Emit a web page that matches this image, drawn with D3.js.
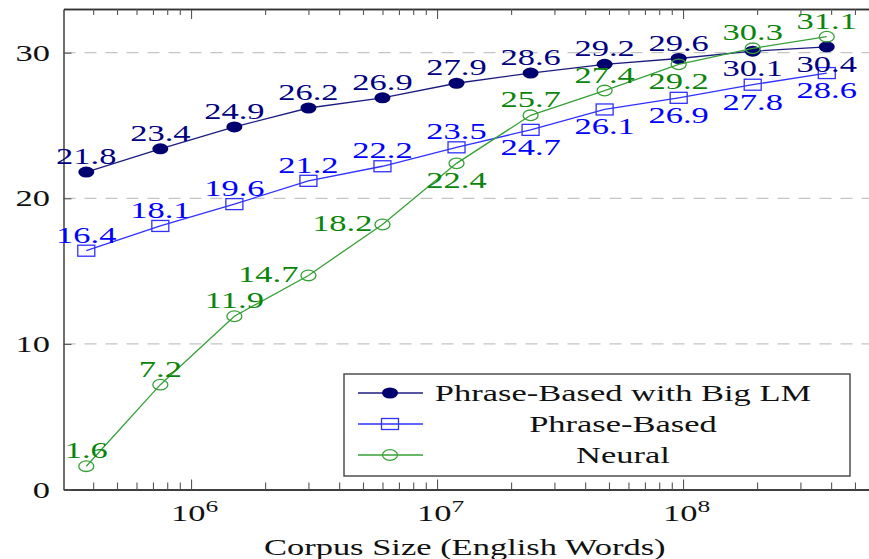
<!DOCTYPE html>
<html>
<head>
<meta charset="utf-8">
<script src="https://cdn.jsdelivr.net/npm/d3@7"></script>
<style>
  body { margin: 0; background: #fff; }
  text { font-family: "Liberation Serif", "Times New Roman", serif; }
</style>
</head>
<body>
<script>
// corpus sizes (English words) and BLEU scores
var corpusSize = [375e3, 750e3, 1.5e6, 3e6, 6e6, 12e6, 24e6, 48e6, 96e6, 192e6, 384e6];
var bigLM   = [21.8, 23.4, 24.9, 26.2, 26.9, 27.9, 28.6, 29.2, 29.6, 30.1, 30.4];
var phrase  = [16.4, 18.1, 19.6, 21.2, 22.2, 23.5, 24.7, 26.1, 26.9, 27.8, 28.6];
var neural  = [1.6, 7.2, 11.9, 14.7, 18.2, 22.4, 25.7, 27.4, 29.2, 30.3, 31.1];
var seriesNames = ["Phrase-Based with Big LM", "Phrase-Based", "Neural"];
var yTicks = [0, 10, 20, 30];
var xTicks = [1e6, 1e7, 1e8];

// where each value label sits relative to its point
var bigLMPos  = ["a","a","a","a","a","a","a","a","a","b","b"];
var phrasePos = ["a","a","a","a","a","a","b","b","b","b","b"];
var neuralPos = ["a","a","a","l","l","b","a","a","b","a","a"];

var W = 869, H = 559;
var SX = 1.5;      // the picture is stretched sideways
var FS = 23;

var svg = d3.select("body").append("svg")
    .attr("width", W).attr("height", H)
    .style("display", "block");

var pLeft = 63.5, pRight = 880, pTop = 9, pBottom = 489.5;

var x = d3.scaleLog().domain([3.03e5, 6.32e8]).range([pLeft, pRight]);
var y = d3.scaleLinear().domain([0, 33]).range([pBottom, pTop]);

// dashed grid
svg.append("g").selectAll("line")
    .data(yTicks.filter(function(d){ return d > 0; }))
    .enter().append("line")
    .attr("x1", pLeft).attr("x2", pRight)
    .attr("y1", function(d){ return y(d); })
    .attr("y2", function(d){ return y(d); })
    .attr("stroke", "#c4c4c4").attr("stroke-width", 1.2)
    .attr("stroke-dasharray", "12,9");

// minor log ticks
var minor = [];
[1e5, 1e6, 1e7, 1e8].forEach(function(p){
  for (var k = 2; k <= 9; k++) {
    var v = k * p;
    if (v > x.domain()[0] && v < x.domain()[1] && xTicks.indexOf(v) < 0) minor.push(v);
  }
});

var xb = svg.append("g")
    .attr("transform", "translate(0," + pBottom + ")")
    .call(d3.axisBottom(x).tickValues(xTicks).tickSizeInner(-10).tickSizeOuter(0).tickFormat(""));
svg.append("g")
    .attr("transform", "translate(0," + pTop + ")")
    .call(d3.axisTop(x).tickValues(xTicks).tickSizeInner(-10).tickSizeOuter(0).tickFormat(""));
svg.append("g").attr("transform", "translate(0," + pBottom + ")")
    .call(d3.axisBottom(x).tickValues(minor).tickSizeInner(-7).tickSizeOuter(0).tickFormat(""));
svg.append("g").attr("transform", "translate(0," + pTop + ")")
    .call(d3.axisTop(x).tickValues(minor).tickSizeInner(-6).tickSizeOuter(0).tickFormat(""));

var yAx = svg.append("g")
    .attr("transform", "translate(" + pLeft + ",0)")
    .call(d3.axisLeft(y).tickValues(yTicks).tickSizeInner(-8).tickSizeOuter(0));

svg.selectAll(".domain").attr("stroke", "#333").attr("stroke-width", 1.4);
svg.selectAll(".tick line").attr("stroke", "#555").attr("stroke-width", 1.1);

yAx.selectAll(".tick text")
    .attr("x", 0).attr("dy", "0.33em")
    .attr("transform", "translate(-13.5,0) scale(" + SX + ",1)")
    .attr("font-size", FS).attr("fill", "#111")
    .style("font-family", "'Liberation Serif', serif");

// x tick labels as 10^k
xb.selectAll(".tick").each(function(d){
  var t = d3.select(this).append("text")
      .attr("transform", "translate(3,31) scale(" + SX + ",1)")
      .attr("text-anchor", "middle")
      .attr("font-size", FS).attr("fill", "#111");
  t.append("tspan").text("10");
  t.append("tspan").attr("dy", -9).attr("font-size", 17).text(Math.round(Math.log10(d)));
});

svg.append("text")
    .attr("transform", "translate(" + ((pLeft + 866) / 2) + ",555) scale(" + SX + ",1)")
    .attr("text-anchor", "middle").attr("font-size", FS).attr("fill", "#111")
    .text("Corpus Size (English Words)");

var series = [
  {vals: bigLM,  pos: bigLMPos,  line: "#1c1c80", text: "#000080", mark: "dot"},
  {vals: phrase, pos: phrasePos, line: "#3030ff", text: "#0000ff", mark: "square"},
  {vals: neural, pos: neuralPos, line: "#36a036", text: "#0a850a", mark: "circle"}
];

var line = d3.line()
    .x(function(d){ return x(d[0]); })
    .y(function(d){ return y(d[1]); });

function drawMarker(g, kind, cx, cy, color) {
  if (kind === "dot") {
    g.append("ellipse").attr("cx", cx).attr("cy", cy).attr("rx", 8).attr("ry", 5.5)
      .attr("fill", "#00006e");
  } else if (kind === "square") {
    g.append("rect").attr("x", cx - 8.5).attr("y", cy - 5.5).attr("width", 17).attr("height", 11)
      .attr("fill", "none").attr("stroke", color).attr("stroke-width", 1.3);
  } else {
    g.append("ellipse").attr("cx", cx).attr("cy", cy).attr("rx", 7.5).attr("ry", 5.3)
      .attr("fill", "none").attr("stroke", color).attr("stroke-width", 1.3);
  }
}

series.forEach(function(s){
  var pts = corpusSize.map(function(c, i){ return [c, s.vals[i]]; });
  svg.append("path").datum(pts)
      .attr("d", line).attr("fill", "none")
      .attr("stroke", s.line).attr("stroke-width", 1.3);
  var g = svg.append("g");
  pts.forEach(function(p){ drawMarker(g, s.mark, x(p[0]), y(p[1]), s.line); });
});

series.forEach(function(s){
  corpusSize.forEach(function(c, i){
    var px = x(c), py = y(s.vals[i]), tx = px, ty, anchor = "middle";
    if (s.pos[i] === "a") ty = py - 8;
    else if (s.pos[i] === "b") ty = py + 25;
    else { tx = px - 10; ty = py + 7; anchor = "end"; }
    svg.append("text")
        .attr("transform", "translate(" + tx + "," + ty + ") scale(" + SX + ",1)")
        .attr("text-anchor", anchor).attr("font-size", FS).attr("fill", s.text)
        .text(s.vals[i].toFixed(1));
  });
});

// legend
var lg = svg.append("g");
lg.append("rect").attr("x", 344).attr("y", 374).attr("width", 506).attr("height", 102)
    .attr("fill", "#fff").attr("stroke", "#444").attr("stroke-width", 1.4);
series.forEach(function(s, i){
  var cy = 393 + i * 31;
  lg.append("line").attr("x1", 358).attr("x2", 423).attr("y1", cy).attr("y2", cy)
      .attr("stroke", s.line).attr("stroke-width", 1.3);
  drawMarker(lg, s.mark, 390, cy, s.line);
  lg.append("text")
      .attr("transform", "translate(623," + (cy + 8) + ") scale(" + SX + ",1)")
      .attr("text-anchor", "middle").attr("font-size", FS).attr("fill", "#111")
      .text(seriesNames[i]);
});
</script>
</body>
</html>
